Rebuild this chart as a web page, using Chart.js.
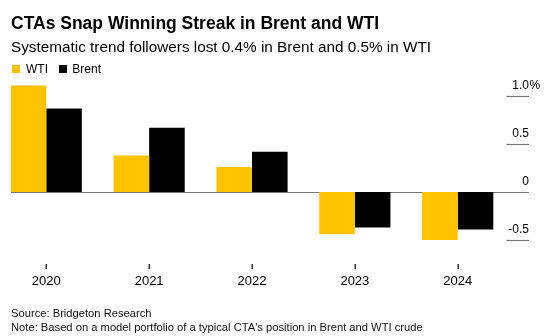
<!DOCTYPE html>
<html>
<head>
<meta charset="utf-8">
<script src="https://cdn.jsdelivr.net/npm/chart.js@4.4.1/dist/chart.umd.min.js"></script>
<style>
    html, body { margin: 0; padding: 0; background: #fff; }
    body { width: 550px; height: 336px; position: relative; overflow: hidden;
           font-family: 'Liberation Sans', Arial, sans-serif; color: #000; }
    .linea { position: absolute; left: 11px; line-height: 1; white-space: nowrap; }
    #titulo { top: 14.5px; font-size: 17.5px; font-weight: 700; }
    #subtitulo { top: 38.8px; font-size: 15.3px; }
    #leyenda { top: 63.1px; font-size: 12px; left: 0; }
    #leyenda span { position: absolute; }
    .caja { width: 8px; height: 8px; top: 2px; }
    #fuente { top: 308.2px; font-size: 11.2px; color: #111; }
    #nota { top: 321.5px; font-size: 11.2px; color: #111; }
    canvas { position: absolute; left: 0; top: 0; }
</style>
</head>
<body>
<canvas id="grafico" width="550" height="336"></canvas>
<div class="linea" id="titulo">CTAs Snap Winning Streak in Brent and WTI</div>
<div class="linea" id="subtitulo">Systematic trend followers lost 0.4% in Brent and 0.5% in WTI</div>
<div class="linea" id="leyenda">
    <span class="caja" style="left:12px; background:#FFC300;"></span>
    <span style="left:26px;">WTI</span>
    <span class="caja" style="left:58.5px; background:#000;"></span>
    <span style="left:72.3px;">Brent</span>
</div>
<div class="linea" id="fuente">Source: Bridgeton Research</div>
<div class="linea" id="nota">Note: Based on a model portfolio of a typical CTA's position in Brent and WTI crude</div>

<script>
// Datos (rendimiento anual, %)
const categorias = ['2020', '2021', '2022', '2023', '2024'];
const valoresWTI = [1.11, 0.38, 0.26, -0.44, -0.5];
const valoresBrent = [0.87, 0.67, 0.42, -0.37, -0.39];
const ticksY = [1.0, 0.5, 0, -0.5];
const etiquetasY = ['1.0', '0.5', '0', '-0.5'];

(function() {
    const fuente = "'Liberation Sans', Arial, sans-serif";

    // ==========================================
    // EJES ESTILO BLOOMBERG (líneas cortas + etiquetas encima)
    // ==========================================
    const ejesPropios = {
        id: 'ejesPropios',
        beforeDatasetsDraw(chart) {
            const { ctx, chartArea, scales: { y } } = chart;
            ctx.save();
            ctx.strokeStyle = '#777';
            ctx.lineWidth = 1.2;
            ticksY.forEach((valor) => {
                const py = Math.round(y.getPixelForValue(valor)) + 0.5;
                const desde = valor === 0 ? chartArea.left : chartArea.right - 22.5;
                ctx.beginPath();
                ctx.moveTo(desde, py);
                ctx.lineTo(chartArea.right, py);
                ctx.stroke();
            });
            ctx.restore();
        },
        afterDraw(chart) {
            const { ctx, chartArea, scales: { x, y } } = chart;
            ctx.save();

            // marcas pequeñas bajo cada año
            ctx.fillStyle = '#333';
            categorias.forEach((c, i) => {
                const px = Math.round(x.getPixelForValue(i));
                ctx.fillRect(px - 0.5, Math.round(chartArea.bottom), 1.5, 5);
            });

            ctx.font = '12px ' + fuente;
            ctx.fillStyle = '#000';
            ctx.textBaseline = 'alphabetic';
            ticksY.forEach((valor, i) => {
                const py = y.getPixelForValue(valor) - 7;
                ctx.textAlign = 'right';
                ctx.fillText(etiquetasY[i], chartArea.right, py);
                if (i === 0) {
                    // el símbolo % cuelga fuera del eje
                    ctx.textAlign = 'left';
                    ctx.fillText('%', chartArea.right + 0.5, py);
                }
            });
            ctx.restore();
        }
    };

    const ctx = document.getElementById('grafico').getContext('2d');
    new Chart(ctx, {
        type: 'bar',
        data: {
            datasets: [
                {
                    label: 'WTI',
                    data: valoresWTI.map((v, i) => ({ x: i, y: v })),
                    backgroundColor: '#FFC300',
                    borderWidth: 0
                },
                {
                    label: 'Brent',
                    data: valoresBrent.map((v, i) => ({ x: i, y: v })),
                    backgroundColor: '#000',
                    borderWidth: 0
                }
            ]
        },
        options: {
            responsive: false,
            animation: false,
            devicePixelRatio: 1,
            categoryPercentage: 0.692,
            barPercentage: 1,
            layout: { padding: { left: 11, right: 21, top: 72, bottom: 42 } },
            plugins: {
                legend: { display: false },
                tooltip: { enabled: false }
            },
            scales: {
                x: {
                    type: 'linear',
                    min: -0.343,
                    max: 4.693,
                    offset: false,
                    afterFit: (eje) => { eje.height = 30; },
                    border: { display: false },
                    grid: {
                        offset: false,
                        drawOnChartArea: false,
                        drawTicks: true,
                        tickLength: 5,
                        color: 'rgba(0,0,0,0)'
                    },
                    ticks: {
                        stepSize: 1,
                        includeBounds: false,
                        autoSkip: false,
                        maxRotation: 0,
                        padding: 5,
                        color: '#000',
                        font: { family: fuente, size: 13 },
                        callback: (v) => categorias[v] ?? ''
                    }
                },
                y: {
                    display: false,
                    min: -0.75,
                    max: 1.25
                }
            }
        },
        plugins: [ejesPropios]
    });
})();
</script>
</body>
</html>
